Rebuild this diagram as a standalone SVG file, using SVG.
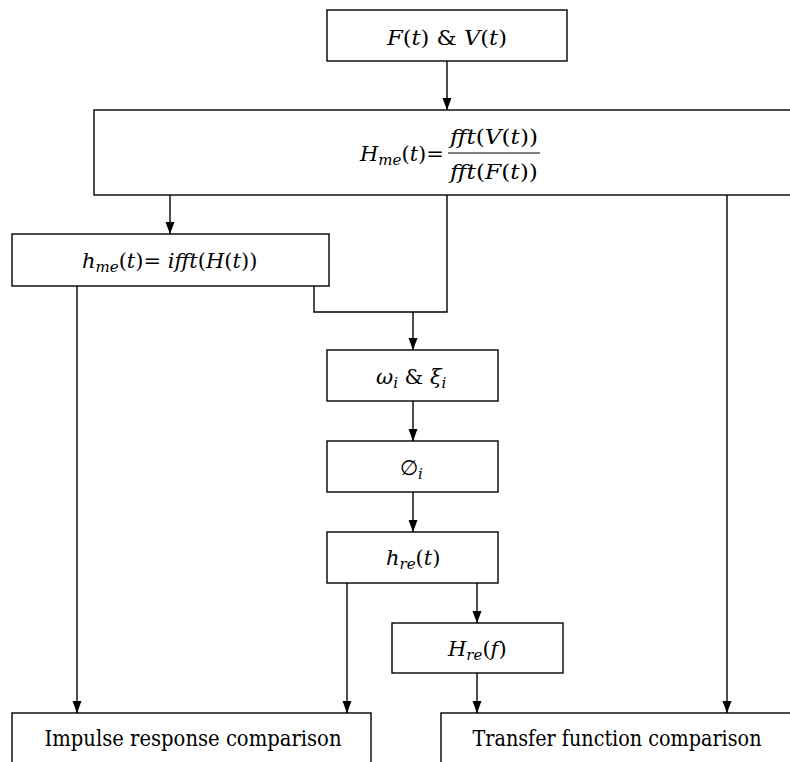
<svg xmlns="http://www.w3.org/2000/svg" width="790" height="762" viewBox="0 0 790 762">
<style>
.box{fill:#fff;stroke:#000;stroke-width:1.4}
.c{fill:none;stroke:#000;stroke-width:1.4}
text{font-family:"DejaVu Serif","Liberation Serif",serif;font-size:21px;fill:#000}
.i{font-style:italic}
.s{font-size:15px;font-style:italic}
.big{font-size:23px}
</style>
<defs>
<marker id="av" markerUnits="userSpaceOnUse" markerWidth="12" markerHeight="10" refX="12" refY="5" orient="auto" viewBox="0 0 12 10">
<path d="M0,0.5 L12,5 L0,9.5 Z" fill="#000"/>
</marker>
</defs>
<rect width="790" height="762" fill="#fff"/>
<g id="connectors">
<line class="c" x1="447" y1="61" x2="447" y2="110" marker-end="url(#av)"/>
<line class="c" x1="170" y1="195" x2="170" y2="234" marker-end="url(#av)"/>
<polyline class="c" points="314,286 314,312 447,312 447,195"/>
<line class="c" x1="413" y1="312" x2="413" y2="350" marker-end="url(#av)"/>
<line class="c" x1="413" y1="401" x2="413" y2="441" marker-end="url(#av)"/>
<line class="c" x1="413" y1="492" x2="413" y2="532" marker-end="url(#av)"/>
<line class="c" x1="477" y1="583" x2="477" y2="623" marker-end="url(#av)"/>
<line class="c" x1="477" y1="673" x2="477" y2="713" marker-end="url(#av)"/>
<line class="c" x1="347" y1="583" x2="347" y2="713" marker-end="url(#av)"/>
<line class="c" x1="77" y1="286" x2="77" y2="713" marker-end="url(#av)"/>
<line class="c" x1="727" y1="195" x2="727" y2="713" marker-end="url(#av)"/>
</g>
<g id="n_fv">
<rect class="box" x="327" y="10" width="240" height="51"/>
<text x="447" y="45" text-anchor="middle" textLength="120" lengthAdjust="spacingAndGlyphs"><tspan class="i">F</tspan>(<tspan class="i">t</tspan>) &amp; <tspan class="i">V</tspan>(<tspan class="i">t</tspan>)</text>
</g>
<g id="n_Hme">
<rect class="box" x="94" y="110" width="720" height="85"/>
<text x="360" y="161"><tspan class="i">H</tspan><tspan class="s" dy="4">me</tspan><tspan dy="-4">(</tspan><tspan class="i">t</tspan>)=</text>
<text x="494" y="144" text-anchor="middle" class="i" textLength="88" lengthAdjust="spacingAndGlyphs">fft<tspan font-style="normal">(</tspan>V<tspan font-style="normal">(</tspan>t<tspan font-style="normal">))</tspan></text>
<line x1="448" y1="153" x2="540" y2="153" stroke="#000" stroke-width="1.2"/>
<text x="494" y="179" text-anchor="middle" class="i" textLength="88" lengthAdjust="spacingAndGlyphs">fft<tspan font-style="normal">(</tspan>F<tspan font-style="normal">(</tspan>t<tspan font-style="normal">))</tspan></text>
</g>
<g id="n_hme">
<rect class="box" x="12" y="234" width="317" height="52"/>
<text x="82" y="268"><tspan class="i">h</tspan><tspan class="s" dy="4">me</tspan><tspan dy="-4">(</tspan><tspan class="i">t</tspan>)= <tspan class="i">ifft</tspan>(<tspan class="i">H</tspan>(<tspan class="i">t</tspan>))</text>
</g>
<g id="n_omega">
<rect class="box" x="327" y="350" width="171" height="51"/>
<text x="376" y="384"><tspan class="i">ω</tspan><tspan class="s" dy="4">i</tspan><tspan dy="-4"> &amp; </tspan><tspan class="i">ξ</tspan><tspan class="s" dy="4">i</tspan></text>
</g>
<g id="n_phi">
<rect class="box" x="327" y="441" width="171" height="51"/>
<text x="400" y="475">∅<tspan class="s" dy="4">i</tspan></text>
</g>
<g id="n_hre">
<rect class="box" x="327" y="532" width="171" height="51"/>
<text x="386" y="565"><tspan class="i">h</tspan><tspan class="s" dy="4">re</tspan><tspan dy="-4">(</tspan><tspan class="i">t</tspan>)</text>
</g>
<g id="n_Hre">
<rect class="box" x="392" y="623" width="171" height="50"/>
<text x="448" y="656"><tspan class="i">H</tspan><tspan class="s" dy="4">re</tspan><tspan dy="-4">(</tspan><tspan class="i">f</tspan>)</text>
</g>
<g id="n_imp">
<rect class="box" x="12" y="713" width="359" height="60"/>
<text class="big" x="193" y="746" text-anchor="middle" textLength="297" lengthAdjust="spacingAndGlyphs">Impulse response comparison</text>
</g>
<g id="n_tf">
<rect class="box" x="441" y="713" width="360" height="60"/>
<text class="big" x="617" y="746" text-anchor="middle" textLength="289" lengthAdjust="spacingAndGlyphs">Transfer function comparison</text>
</g>
</svg>
